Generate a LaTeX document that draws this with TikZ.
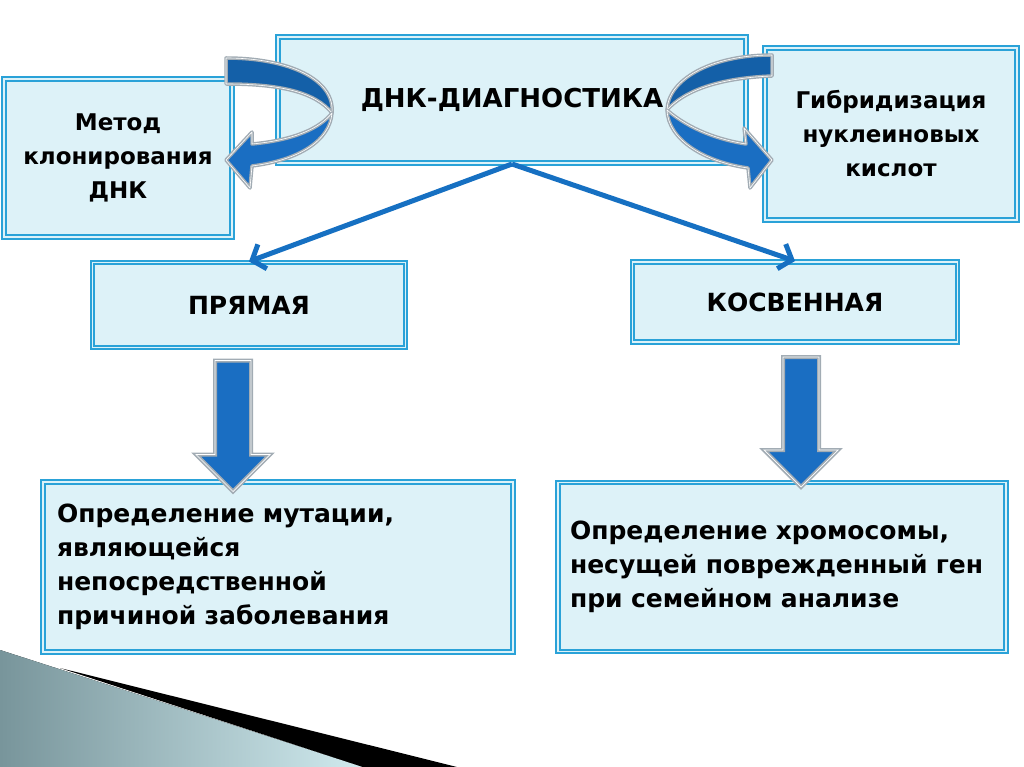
\documentclass[tikz,border=0pt]{standalone}
\usepackage{fontspec}
\setmainfont{DejaVu Sans}
\usepackage{tikz}
\usetikzlibrary{calc}
\usetikzlibrary{arrows.meta}
\usetikzlibrary{shapes.arrows}
\usetikzlibrary{positioning}
\definecolor{boxfill}{HTML}{DDF2F8}
\definecolor{boxline}{HTML}{2AA2D8}
\definecolor{linkblue}{HTML}{1670C2}
\definecolor{ribdark}{HTML}{1460A8}
\definecolor{riblight}{HTML}{1A6EC2}
\definecolor{ribgray}{HTML}{A2ACB4}
\definecolor{wedgedark}{HTML}{78959B}
\definecolor{wedgelight}{HTML}{D0EAEE}
\tikzset{box/.style={rectangle,draw=boxline,line width=2pt,double=boxfill,double distance=1.5pt,fill=boxfill,inner sep=0pt,font=\bfseries\fontsize{23}{34}\selectfont,align=center}}
\tikzset{bodytext/.style={font=\bfseries\fontsize{25}{34}\selectfont,align=left}}
\tikzset{link/.style={draw=linkblue,line width=5pt,-{Straight Barb[length=11pt,width=26pt]}}}
\tikzset{down/.style={single arrow,rotate=-90,fill=riblight,draw=ribgray,line width=4pt,inner xsep=0pt,inner ysep=16pt,single arrow head extend=19pt,single arrow head indent=0pt,postaction={draw=white,line width=0.7pt}}}
\tikzset{ribbon/.style={draw=ribgray,line width=3.5pt,line join=round,postaction={draw=white,line width=0.6pt}}}

\begin{document}
\begin{tikzpicture}[x=1pt,y=-1pt]
\useasboundingbox (0,0) rectangle (1024,767);

% corner wedge
\fill[left color=wedgedark,right color=wedgelight] (0,650) -- (363,767) -- (0,767) -- cycle;
\fill[black] (60,668) -- (457,767) -- (363,767) -- cycle;

% boxes
\node[box,minimum width=468pt,minimum height=126pt,font=\bfseries\fontsize{26}{30}\selectfont] (diag) at (512,100) {ДНК-ДИАГНОСТИКА};
\node[box,minimum width=228pt,minimum height=158pt] (clone) at (118,158) {Метод\\клонирования\\ДНК};
\node[box,minimum width=252pt,minimum height=172pt] (hybrid) at (891,134) {Гибридизация\\нуклеиновых\\кислот};
\node[box,minimum width=313pt,minimum height=85pt,font=\bfseries\fontsize{25}{30}\selectfont] (direct) at (249,305) {ПРЯМАЯ};
\node[box,minimum width=325pt,minimum height=80pt,font=\bfseries\fontsize{25}{30}\selectfont] (indirect) at (795,302) {КОСВЕННАЯ};
\node[box,bodytext,minimum width=470pt,minimum height=170pt,text width=442pt] (mutation) at (278,567) {Определение мутации,\\являющейся\\непосредственной\\причиной заболевания};
\node[box,bodytext,minimum width=448pt,minimum height=169pt,text width=424pt] (chrom) at (782,567) {Определение хромосомы,\\несущей поврежденный ген\\при семейном анализе};

% links
\draw[link] (diag.south) -- (direct.north);
\draw[link] (diag.south) -- (indirect.north);

\node[down,minimum height=131pt] (dn1) at (233,417) {};
\node[down,minimum height=130pt] (dn2) at (801,413) {};

% curved arrows
\draw[ribbon,fill=ribdark] (226,58) .. controls (290,58) and (335,80) .. (332,113) .. controls (315,92) and (280,84) .. (226,84) -- cycle;
\draw[ribbon,fill=riblight] (332,113) .. controls (330,140) and (300,160) .. (252,166) -- (250,188) -- (226,160) -- (252,132) -- (252,144) .. controls (295,140) and (320,128) .. (332,113) -- cycle;
\draw[ribbon,fill=ribdark] (772,55) .. controls (710,55) and (668,80) .. (667,110) .. controls (685,90) and (720,78) .. (772,76) -- cycle;
\draw[ribbon,fill=riblight] (667,110) .. controls (690,130) and (720,140) .. (746,144) -- (744,128) -- (772,160) -- (750,188) -- (748,168) .. controls (705,162) and (668,140) .. (667,110) -- cycle;

\end{tikzpicture}
\end{document}
